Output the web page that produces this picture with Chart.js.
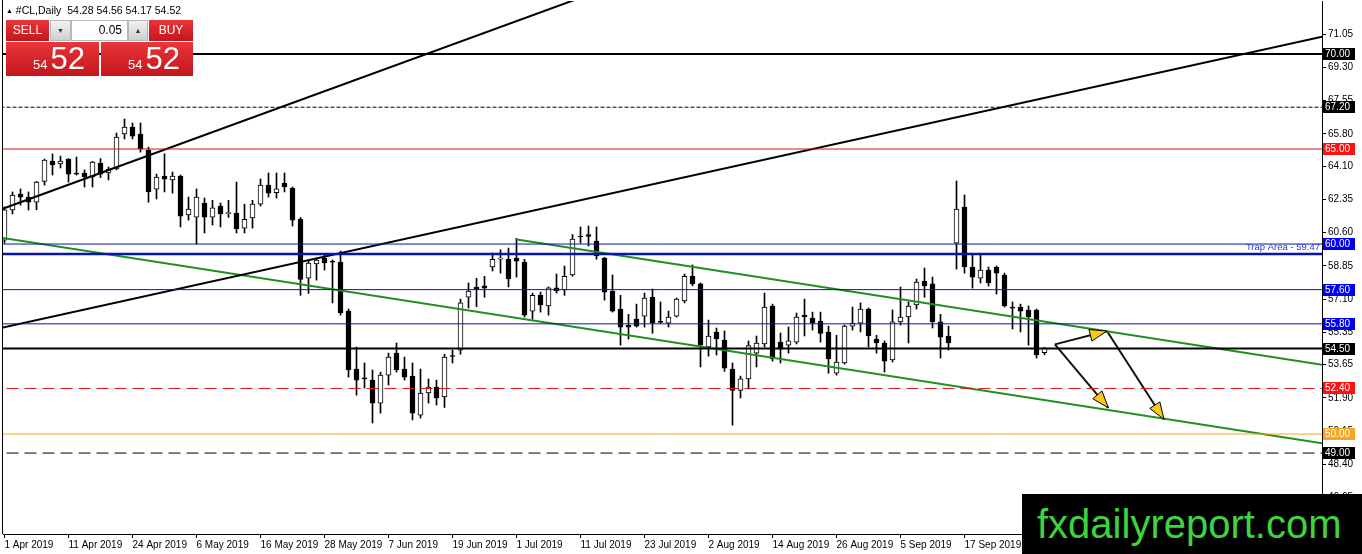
<!DOCTYPE html>
<html>
<head>
<meta charset="utf-8">
<script src="https://cdn.jsdelivr.net/npm/chart.js@4.4.1/dist/chart.umd.min.js"></script>
<style>
  html, body { margin: 0; padding: 0; background: #fff; }
  #wrap { position: relative; width: 1362px; height: 554px; overflow: hidden; font-family: "Liberation Sans", Arial, sans-serif; }
  #c { position: absolute; left: 0; top: 0; }
  #hdr { position: absolute; left: 6px; top: 4px; font-size: 10.5px; color: #000; white-space: pre; }
  #hdr .tri { font-size: 7px; vertical-align: 1px; }
  .btn { position: absolute; box-sizing: border-box; color: #fff; font-size: 12px; text-align: center; line-height: 21px; }
  .red { background: linear-gradient(#e8363a, #c4161c); }
  .gray { background: linear-gradient(#f2f2f2, #cfcfcf); color: #333; font-size: 7px; border: 1px solid #b8b8b8; }
  #lot { position: absolute; left: 71px; top: 20px; width: 57px; height: 21px; box-sizing: border-box; background: #fff; border: 1px solid #b8b8b8; font-size: 12px; line-height: 19px; text-align: right; padding-right: 5px; color: #000; }
  .big { position: absolute; top: 42px; height: 34px; display: flex; justify-content: flex-end; align-items: baseline; color: #fff; line-height: 34px; }
  .big .s { font-size: 13px; margin-right: 3px; }
  .big .b { font-size: 31px; }
  #logo { position: absolute; left: 1022px; top: 494px; width: 340px; height: 60px; background: #000; color: #3ed43e; font-size: 40px; line-height: 60px; padding-left: 15px; box-sizing: border-box; }
</style>
</head>
<body>
<div id="wrap">
  <canvas id="c" width="1362" height="554"></canvas>
  <div id="hdr"><span class="tri">&#9650;</span> #CL,Daily  54.28 54.56 54.17 54.52</div>
  <div class="btn red" style="left:6px;top:20px;width:43px;height:21px;">SELL</div>
  <div class="btn gray" style="left:50px;top:20px;width:21px;height:21px;line-height:19px;">&#9660;</div>
  <div id="lot">0.05</div>
  <div class="btn gray" style="left:128px;top:20px;width:20px;height:21px;line-height:19px;">&#9650;</div>
  <div class="btn red" style="left:149px;top:20px;width:44px;height:21px;">BUY</div>
  <div class="big red" style="left:6px;width:93px;padding-right:14px;box-sizing:border-box;"><span class="s">54</span><span class="b">52</span></div>
  <div class="big red" style="left:101px;width:92px;padding-right:13px;box-sizing:border-box;"><span class="s">54</span><span class="b">52</span></div>
  <div id="logo">fxdailyreport.com</div>
</div>
<script>
// date labels, one every 8 bars
const tickLabels = ['1 Apr 2019', '11 Apr 2019', '24 Apr 2019', '6 May 2019', '16 May 2019', '28 May 2019',
  '7 Jun 2019', '19 Jun 2019', '1 Jul 2019', '11 Jul 2019', '23 Jul 2019', '2 Aug 2019',
  '14 Aug 2019', '26 Aug 2019', '5 Sep 2019', '17 Sep 2019'];
const priceTicks = [71.05, 69.30, 67.55, 65.80, 64.10, 62.35, 60.60, 58.85, 57.10, 55.35, 53.65, 51.90, 50.15, 48.40, 46.65];

// daily OHLC, 1 Apr 2019 .. 1 Oct 2019
const opens = [60.20, 61.79, 62.63, 62.47, 62.20, 63.30, 64.37, 64.21, 64.47, 63.74,
  63.74, 63.53, 64.26, 63.74, 63.95, 65.79, 66.16, 65.79, 64.95, 62.89,
  63.58, 63.37, 63.58, 61.53, 61.42, 62.16, 61.42, 62.00, 61.60, 61.63,
  60.84, 61.37, 62.10, 63.10, 62.70, 63.20, 62.95, 61.30, 58.20, 58.95,
  59.26, 59.10, 59.05, 56.47, 53.42, 52.95, 52.84, 51.63, 53.10, 54.26,
  53.42, 53.05, 51.00, 52.16, 52.47, 51.95, 54.10, 54.42, 57.20, 57.74,
  57.80, 58.80, 59.20, 59.20, 59.26, 59.05, 56.47, 57.30, 56.74, 57.70,
  57.58, 58.37, 60.42, 60.50, 60.16, 59.26, 57.53, 56.58, 55.74, 56.05,
  56.20, 57.20, 55.90, 55.84, 56.20, 57.00, 58.30, 57.90, 54.58, 55.37,
  54.95, 53.42, 52.30, 52.90, 54.26, 54.74, 56.74, 54.84, 54.68, 54.84,
  56.26, 56.10, 55.95, 55.37, 53.21, 53.74, 55.68, 55.84, 56.58, 55.00,
  54.79, 53.90, 55.90, 56.16, 56.79, 58.05, 57.90, 55.90, 55.16, 60.05,
  61.95, 58.79, 58.20, 58.63, 58.79, 58.37, 56.68, 56.68, 56.53, 56.53,
  54.28];
const highs = [61.95, 62.74, 62.90, 62.74, 63.30, 64.47, 64.74, 64.63, 64.50, 64.58,
  63.90, 64.35, 64.50, 64.05, 65.84, 66.58, 66.37, 66.37, 65.10, 63.68,
  64.74, 63.79, 63.63, 62.47, 62.90, 62.42, 62.30, 62.16, 62.30, 63.26,
  62.10, 62.30, 63.42, 63.74, 63.74, 63.74, 63.00, 61.40, 59.16, 59.26,
  59.42, 59.16, 59.63, 56.58, 54.58, 53.74, 53.37, 53.26, 54.26, 54.79,
  54.05, 53.74, 53.42, 52.90, 52.84, 54.20, 54.42, 57.10, 57.95, 58.20,
  58.30, 59.53, 59.70, 59.79, 60.30, 59.20, 57.42, 57.47, 57.74, 58.42,
  58.84, 60.50, 60.90, 60.95, 60.90, 59.30, 58.37, 57.30, 56.30, 56.84,
  57.42, 57.63, 56.95, 56.47, 57.16, 58.42, 58.90, 57.95, 56.00, 55.58,
  55.42, 53.74, 53.05, 54.90, 55.16, 57.42, 56.84, 55.32, 55.63, 56.37,
  57.10, 56.42, 56.42, 55.68, 55.20, 55.74, 56.68, 56.90, 56.63, 55.20,
  54.90, 56.53, 57.74, 56.95, 58.16, 58.74, 58.26, 56.30, 55.68, 63.32,
  62.58, 59.47, 59.42, 58.79, 58.84, 58.47, 56.95, 56.84, 56.74, 56.58,
  54.56];
const lows = [60.05, 61.58, 62.05, 61.79, 61.80, 63.10, 63.63, 64.00, 63.26, 63.63,
  63.00, 63.00, 63.50, 63.37, 63.90, 65.53, 65.53, 64.84, 62.20, 62.37,
  62.74, 62.68, 60.90, 61.26, 60.00, 60.58, 61.00, 60.90, 61.40, 60.58,
  60.58, 60.84, 62.00, 62.47, 62.42, 62.74, 60.95, 57.30, 57.40, 58.10,
  58.63, 56.90, 56.26, 53.00, 52.05, 52.42, 50.58, 51.10, 52.58, 53.26,
  52.84, 50.74, 50.84, 51.63, 51.53, 51.40, 53.74, 54.20, 56.63, 56.70,
  57.20, 58.58, 58.47, 57.74, 58.26, 56.16, 56.05, 56.42, 56.26, 57.42,
  57.30, 58.30, 60.05, 59.90, 59.20, 57.05, 56.42, 54.68, 55.00, 55.63,
  55.63, 55.30, 55.84, 55.63, 56.16, 56.90, 57.80, 53.53, 54.10, 54.16,
  53.30, 50.47, 51.90, 52.37, 53.53, 54.58, 53.84, 53.74, 54.26, 54.74,
  55.16, 55.47, 54.84, 53.20, 53.10, 53.68, 55.47, 55.37, 54.58, 54.26,
  53.26, 53.79, 55.74, 54.79, 56.58, 57.20, 55.58, 54.00, 54.42, 58.68,
  58.47, 57.68, 57.95, 57.79, 57.37, 56.68, 55.53, 55.37, 54.68, 54.00,
  54.17];
const closes = [61.80, 62.58, 62.47, 62.20, 63.26, 64.42, 64.16, 64.37, 63.68, 63.68,
  63.53, 64.31, 63.68, 63.95, 65.63, 66.16, 65.68, 65.00, 62.74, 63.53,
  63.42, 63.58, 61.47, 61.84, 62.47, 61.42, 61.90, 61.58, 61.65, 60.79,
  61.30, 62.10, 63.10, 62.68, 62.90, 63.00, 61.26, 58.14, 59.00, 59.16,
  59.00, 59.05, 56.37, 53.37, 52.84, 52.90, 51.63, 53.10, 54.05, 53.37,
  53.00, 51.10, 52.16, 52.47, 51.90, 54.05, 54.08, 56.90, 57.53, 57.63,
  57.68, 59.20, 59.26, 58.16, 59.10, 56.26, 57.30, 56.80, 57.70, 57.53,
  58.30, 60.26, 60.37, 60.40, 59.37, 57.47, 56.47, 55.63, 55.63, 55.68,
  57.16, 55.84, 55.88, 56.16, 57.10, 58.30, 57.90, 54.68, 55.16, 55.00,
  53.47, 52.30, 52.90, 54.65, 54.79, 56.68, 53.95, 54.47, 54.90, 56.16,
  56.16, 55.84, 55.30, 53.95, 53.79, 55.68, 55.84, 56.58, 55.16, 54.79,
  53.84, 55.90, 56.16, 56.74, 58.00, 57.80, 55.90, 55.10, 54.79, 61.84,
  58.79, 58.26, 58.63, 57.95, 58.47, 56.74, 56.63, 56.47, 56.16, 54.16,
  54.52];

// horizontal levels drawn on the chart
const levels = [70.00, 67.20, 65.00, 60.00, 59.47, 57.60, 55.80, 54.50, 52.40, 50.00, 49.00];
// trend lines as [bar index, price] end points
const trendA = [[-0.35, 61.84], [80, 74.19]];
const trendB = [[-0.2, 55.61], [164.7, 70.91]];
const channelLow = [[-0.19, 60.32], [164.69, 49.52]];
const channelHigh = [[63.85, 60.25], [164.69, 53.64]];
const arrows = [
  [[131.3, 54.72], [137.8, 55.42]],
  [[131.3, 54.72], [137.98, 51.38]],
  [[137.8, 55.42], [144.94, 50.77]]
];

const levelStyle = {
  '70.00': { color: '#000', width: 2, dash: [], box: '#000' },
  '67.20': { color: '#000', width: 1, dash: [4, 2], box: '#000' },
  '65.00': { color: '#cc1414', width: 1, dash: [], box: '#ff1010' },
  '60.00': { color: '#0a14a8', width: 1, dash: [], box: '#0000f0' },
  '59.47': { color: '#0a14a8', width: 2.5, dash: [], box: null },
  '57.60': { color: '#0a14a8', width: 1, dash: [], box: '#0000f0' },
  '55.80': { color: '#0a14a8', width: 1, dash: [], box: '#0000f0' },
  '54.50': { color: '#000', width: 2, dash: [], box: '#000' },
  '52.40': { color: '#e01414', width: 1, dash: [12, 6], box: '#ff1010' },
  '50.00': { color: '#f5a623', width: 1, dash: [], box: '#f5a623' },
  '49.00': { color: '#000', width: 1, dash: [12, 6], box: '#000' }
};

const idx = opens.map((_, i) => i);
const wickData = idx.map(i => ({ x: i, y: [lows[i], highs[i]] }));
const bodyData = idx.map(i => ({ x: i, y: [Math.min(opens[i], closes[i]), Math.max(opens[i], closes[i])] }));
const bodyFill = idx.map(i => closes[i] >= opens[i] ? '#ffffff' : '#000000');

const seg = (pts, color, width, dash) => ({
  type: 'line',
  data: pts.map(p => ({ x: p[0], y: p[1] })),
  borderColor: color, borderWidth: width, borderDash: dash || [],
  pointRadius: 0, fill: false, tension: 0, order: 0
});

const datasets = [];
levels.forEach(v => {
  const s = levelStyle[v.toFixed(2)];
  datasets.push(seg([[-2, v], [170, v]], s.color, s.width, s.dash));
});
datasets.push(seg(trendA, '#000', 2));
datasets.push(seg(trendB, '#000', 2));
datasets.push(seg(channelLow, '#1f8f1f', 2));
datasets.push(seg(channelHigh, '#1f8f1f', 2));
arrows.forEach(a => datasets.push(seg(a, '#111', 2)));
datasets.push({
  type: 'bar', data: bodyData, backgroundColor: bodyFill, borderColor: '#000', borderWidth: 1,
  borderSkipped: false, barThickness: 5, minBarLength: 1, grouped: false, order: 1
});
datasets.push({
  type: 'bar', data: wickData, backgroundColor: '#000', borderWidth: 0,
  barThickness: 1, grouped: false, order: 2
});

const overlay = {
  id: 'overlay',
  afterDatasetsDraw(chart) {
    const { ctx, scales: { x, y } } = chart;
    // arrow heads
    arrows.forEach(a => {
      const x0 = x.getPixelForValue(a[0][0]), y0 = y.getPixelForValue(a[0][1]);
      const x1 = x.getPixelForValue(a[1][0]), y1 = y.getPixelForValue(a[1][1]);
      const ang = Math.atan2(y1 - y0, x1 - x0);
      const L = 17, W = 6;
      const bx = x1 - L * Math.cos(ang), by = y1 - L * Math.sin(ang);
      ctx.save();
      ctx.beginPath();
      ctx.moveTo(x1, y1);
      ctx.lineTo(bx + W * Math.sin(ang), by - W * Math.cos(ang));
      ctx.lineTo(bx - W * Math.sin(ang), by + W * Math.cos(ang));
      ctx.closePath();
      ctx.fillStyle = '#f7c81e';
      ctx.fill();
      ctx.strokeStyle = '#000';
      ctx.lineWidth = 1;
      ctx.stroke();
      ctx.restore();
    });
  },
  afterDraw(chart) {
    const { ctx, chartArea, scales: { y } } = chart;
    ctx.save();
    // left frame
    ctx.strokeStyle = '#000';
    ctx.lineWidth = 1;
    ctx.beginPath();
    ctx.moveTo(chartArea.left - 0.5, 0);
    ctx.lineTo(chartArea.left - 0.5, chartArea.bottom);
    ctx.stroke();
    // trap area note
    ctx.font = '9.5px "Liberation Sans", Arial, sans-serif';
    ctx.fillStyle = '#2a3ad8';
    ctx.textAlign = 'right';
    ctx.textBaseline = 'alphabetic';
    ctx.fillText('Trap Area - 59.47', chartArea.right - 2, y.getPixelForValue(59.47) - 4);
    // price boxes on the axis
    ctx.font = '10px "Liberation Sans", Arial, sans-serif';
    ctx.textAlign = 'left';
    ctx.textBaseline = 'middle';
    levels.forEach(v => {
      const s = levelStyle[v.toFixed(2)];
      if (!s.box) return;
      const py = Math.round(y.getPixelForValue(v));
      ctx.fillStyle = s.box;
      ctx.fillRect(chartArea.right + 1, py - 6, 32, 12);
      ctx.fillStyle = '#fff';
      ctx.fillText(v.toFixed(2), chartArea.right + 3, py + 0.5);
    });
    ctx.restore();
  }
};

new Chart(document.getElementById('c'), {
  type: 'bar',
  data: { datasets },
  options: {
    responsive: false,
    animation: false,
    devicePixelRatio: 1,
    layout: { padding: { left: 3, top: 1, right: 0, bottom: 0 } },
    plugins: { legend: { display: false }, tooltip: { enabled: false } },
    scales: {
      x: {
        type: 'linear',
        offset: false,
        min: -0.1875,
        max: 164.6875,
        afterBuildTicks: s => { s.ticks = tickLabels.map((_, k) => ({ value: k * 8 })); },
        afterFit: s => { s.height = 20; s.paddingLeft = 0; s.paddingRight = 0; },
        ticks: {
          autoSkip: false, maxRotation: 0, align: 'start', padding: 1, color: '#000',
          font: { family: '"Liberation Sans", Arial, sans-serif', size: 10 },
          callback: v => tickLabels[Math.round(v / 8)]
        },
        grid: { offset: false, drawOnChartArea: false, drawTicks: true, tickLength: 4, color: '#000' },
        border: { color: '#000', width: 1 }
      },
      y: {
        position: 'right',
        min: 44.74,
        max: 72.79,
        afterBuildTicks: s => { s.ticks = priceTicks.map(v => ({ value: v })); },
        afterFit: s => { s.width = 40; s.paddingTop = 0; s.paddingBottom = 0; },
        ticks: {
          padding: 2, color: '#000',
          font: { family: '"Liberation Sans", Arial, sans-serif', size: 10 },
          callback: v => v.toFixed(2)
        },
        grid: { drawOnChartArea: false, drawTicks: true, tickLength: 4, color: '#000' },
        border: { color: '#000', width: 1 }
      }
    }
  },
  plugins: [overlay]
});
</script>
</body>
</html>
